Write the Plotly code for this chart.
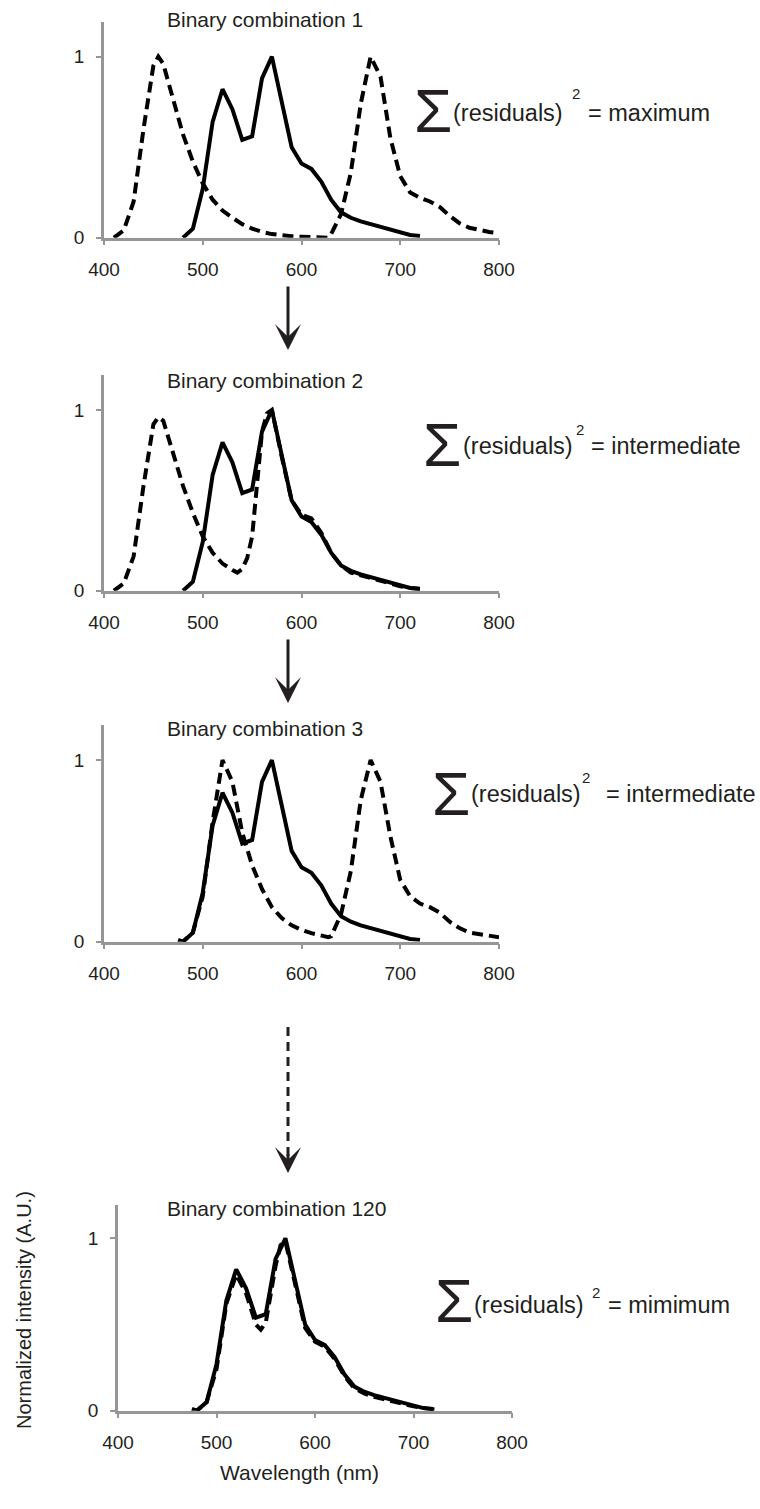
import plotly.graph_objects as go

W, H = 760, 1509

# ---------------- data ----------------
# measured spectrum (solid line, identical in every panel)
wl_solid = [480, 490, 500, 510, 520, 530, 540, 550, 560, 570, 580, 590, 600, 610,
            620, 630, 640, 650, 660, 670, 680, 690, 700, 710, 720]
int_solid = [0.0, 0.05, 0.27, 0.64, 0.82, 0.71, 0.54, 0.56, 0.88, 1.0, 0.75, 0.50, 0.41, 0.38,
             0.31, 0.21, 0.14, 0.11, 0.09, 0.075, 0.055, 0.04, 0.025, 0.015, 0.01]

# binary combination 1 (dashed)
wl_c1 = [410, 420, 430, 440, 450, 455, 460, 470, 480, 490, 500, 510, 520, 530, 540, 550,
         560, 570, 580, 590, 600, 610, 620, 627, 630, 640, 650, 660, 670, 680, 690, 700,
         710, 720, 730, 740, 750, 760, 770, 780, 790, 800]
int_c1 = [0.0, 0.04, 0.2, 0.6, 0.95, 1.0, 0.96, 0.76, 0.57, 0.42, 0.30, 0.21, 0.15, 0.11, 0.075, 0.05,
          0.032, 0.02, 0.013, 0.008, 0.005, 0.003, 0.001, 0.0, 0.02, 0.13, 0.36, 0.74, 1.0, 0.89, 0.55, 0.34,
          0.25, 0.22, 0.20, 0.17, 0.12, 0.08, 0.055, 0.042, 0.032, 0.025]

# binary combination 2 (dashed)
wl_c2 = [410, 420, 430, 440, 450, 455, 460, 470, 480, 490, 500, 510, 520, 530, 535, 540, 545,
         550, 555, 560, 565, 570, 580, 590, 600, 610, 620, 630, 640, 650, 660, 670, 680,
         690, 700, 710, 720, 725]
int_c2 = [0.0, 0.04, 0.19, 0.58, 0.92, 0.96, 0.94, 0.76, 0.58, 0.43, 0.30, 0.21, 0.15, 0.115, 0.10, 0.12, 0.18,
          0.30, 0.58, 0.88, 0.98, 1.0, 0.74, 0.50, 0.42, 0.40, 0.32, 0.21, 0.14, 0.10, 0.085, 0.07, 0.05,
          0.035, 0.025, 0.015, 0.01, 0.008]

# binary combination 3 (dashed)
wl_c3 = [475, 480, 490, 500, 510, 520, 530, 540, 550, 560, 570, 580, 590, 600, 610, 620, 627,
         630, 640, 650, 660, 670, 680, 690, 700, 710, 720, 730, 740, 750, 760, 770, 780, 790, 800]
int_c3 = [0.01, 0.0, 0.05, 0.25, 0.66, 1.0, 0.88, 0.60, 0.42, 0.29, 0.19, 0.13, 0.09, 0.065, 0.047, 0.035, 0.025,
          0.03, 0.15, 0.39, 0.78, 1.0, 0.88, 0.58, 0.34, 0.25, 0.21, 0.19, 0.16, 0.11, 0.075, 0.05, 0.04, 0.032, 0.025]

# binary combination 120 (dashed)
wl_c120 = [475, 480, 490, 500, 510, 520, 530, 540, 545, 550, 560, 565, 570, 580, 590, 600, 610,
           620, 630, 640, 650, 660, 670, 680, 690, 700, 710, 720, 725]
int_c120 = [0.01, 0.0, 0.05, 0.24, 0.62, 0.79, 0.68, 0.50, 0.47, 0.51, 0.84, 0.96, 0.98, 0.72, 0.48, 0.40, 0.37,
            0.30, 0.20, 0.13, 0.10, 0.08, 0.065, 0.05, 0.035, 0.025, 0.015, 0.01, 0.005]

panel_titles = ["Binary combination 1", "Binary combination 2",
                "Binary combination 3", "Binary combination 120"]
residual_labels = ["= maximum", "= intermediate", "= intermediate", "= mimimum"]
x_ticks = [400, 500, 600, 700, 800]
y_ticks = [0, 1]
x_title = "Wavelength (nm)"
y_title = "Normalized intensity (A.U.)"

dashed_sets = [(wl_c1, int_c1), (wl_c2, int_c2), (wl_c3, int_c3), (wl_c120, int_c120)]

# ---------------- layout geometry (pixels) ----------------
TXT = "#231f20"
AX = "#969696"
FONT = "Liberation Sans, Arial, sans-serif"

def xp(p):
    return p / W

def yp(p):
    return 1 - p / H

# (left, right, top, bottom) of each plot area in pixels
boxes = [(104, 499, 21.7, 237.7),
         (104, 499, 375.0, 590.7),
         (104, 499, 725.0, 941.7),
         (118, 512, 1205.0, 1410.7)]

fig = go.Figure()
layout = dict(width=W, height=H,
              margin=dict(l=0, r=0, t=0, b=0, pad=0, autoexpand=False),
              template="none",
              paper_bgcolor="white", plot_bgcolor="white", showlegend=False,
              font=dict(family=FONT, color=TXT))
annotations = []
shapes = []

for i, (box, (wl, iv)) in enumerate(zip(boxes, dashed_sets)):
    n = i + 1
    xa = "x" if n == 1 else f"x{n}"
    ya = "y" if n == 1 else f"y{n}"
    fig.add_trace(go.Scatter(x=wl, y=iv, xaxis=xa, yaxis=ya, mode="lines",
                             line=dict(color="black", width=4, dash="11px,6px")))
    fig.add_trace(go.Scatter(x=wl_solid, y=int_solid, xaxis=xa, yaxis=ya, mode="lines",
                             line=dict(color="black", width=4)))
    l, r, t, b = box
    common = dict(ticks="outside", ticklen=5, tickwidth=2, tickcolor=AX,
                  showline=True, linecolor=AX, linewidth=2.5, showgrid=False, zeroline=False,
                  tickfont=dict(size=19, color=TXT, family=FONT), ticklabelstandoff=8,
                  layer="below traces", fixedrange=True, automargin=False)
    layout[f"xaxis{'' if n == 1 else n}"] = dict(
        domain=[xp(l), xp(r)], anchor=ya, range=[400, 800], tickvals=x_ticks, **common)
    layout[f"yaxis{'' if n == 1 else n}"] = dict(
        domain=[yp(b), yp(t)], anchor=xa, range=[0, 1.193], tickvals=y_ticks, **common)

# panel titles: (left x, centre y)
title_pos = [(165, 20), (165, 380), (165, 728.5), (165, 1208.5)]
for txt, (x, y) in zip(panel_titles, title_pos):
    annotations.append(dict(text=txt, x=xp(x), y=yp(y), xref="paper", yref="paper",
                            xanchor="left", yanchor="middle", showarrow=False,
                            font=dict(size=21, color=TXT, family=FONT)))

# residual expressions: sigma centre, "(residuals)" left, "2" left, "=..." left, text centre y, sup y
res_pos = [
    (433, 110, 451, 570, 586, 113, 93),
    (442, 444, 461, 574, 589, 446, 430),
    (451, 793, 469, 580, 604, 794, 777),
    (454, 1300, 472, 590, 606, 1305, 1292),
]
for lab, (sx, sy, rx, tx, ex, ty, sup_y) in zip(residual_labels, res_pos):
    annotations.append(dict(text="\u03a3", x=xp(sx), y=yp(sy), xref="paper", yref="paper",
                            xanchor="center", yanchor="middle", showarrow=False,
                            font=dict(size=62, color=TXT, family=FONT)))
    annotations.append(dict(text="(residuals)", x=xp(rx), y=yp(ty), xref="paper", yref="paper",
                            xanchor="left", yanchor="middle", showarrow=False,
                            font=dict(size=23.5, color=TXT, family=FONT)))
    annotations.append(dict(text="2", x=xp(tx), y=yp(sup_y), xref="paper", yref="paper",
                            xanchor="left", yanchor="middle", showarrow=False,
                            font=dict(size=15, color=TXT, family=FONT)))
    annotations.append(dict(text=lab, x=xp(ex), y=yp(ty), xref="paper", yref="paper",
                            xanchor="left", yanchor="middle", showarrow=False,
                            font=dict(size=23.5, color=TXT, family=FONT)))

# axis titles (bottom panel)
annotations.append(dict(text=x_title, x=xp(299), y=yp(1472), xref="paper", yref="paper",
                        xanchor="center", yanchor="middle", showarrow=False,
                        font=dict(size=21, color=TXT, family=FONT)))
annotations.append(dict(text=y_title, x=xp(24), y=yp(1310), xref="paper", yref="paper",
                        xanchor="center", yanchor="middle", showarrow=False, textangle=-90,
                        font=dict(size=20, color=TXT, family=FONT)))

# solid arrows between panels
for (y0, y1) in [(285, 350), (638, 703)]:
    annotations.append(dict(text="", x=xp(288), y=yp(y1), xref="paper", yref="paper",
                            ax=0, ay=-(y1 - y0), axref="pixel", ayref="pixel",
                            showarrow=True, arrowhead=3, arrowsize=1.45, arrowwidth=3,
                            arrowcolor=TXT))
# dashed arrow
shapes.append(dict(type="line", xref="paper", yref="paper", x0=xp(288), x1=xp(288),
                   y0=yp(1027), y1=yp(1156), line=dict(color=TXT, width=3, dash="9px,6px")))
annotations.append(dict(text="", x=xp(288), y=yp(1173), xref="paper", yref="paper",
                        ax=0, ay=-20, axref="pixel", ayref="pixel",
                        showarrow=True, arrowhead=3, arrowsize=1.45, arrowwidth=3,
                        arrowcolor=TXT))

layout["annotations"] = annotations
layout["shapes"] = shapes
fig.update_layout(**layout)
fig.write_html("out.html")
